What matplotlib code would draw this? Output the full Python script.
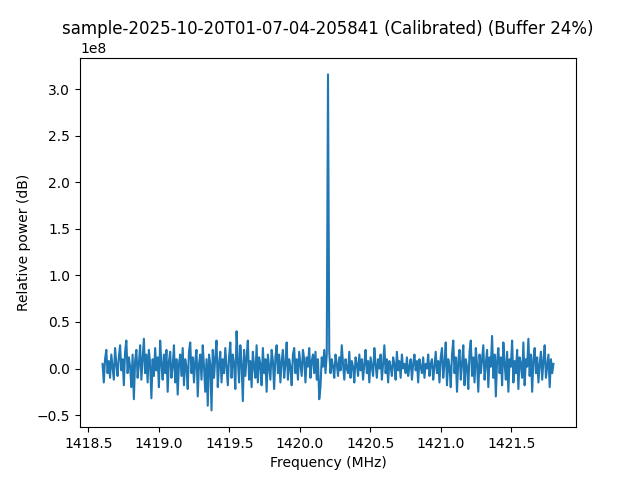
import numpy as np
import matplotlib
matplotlib.use("Agg")
import matplotlib.pyplot as plt

title = "sample-2025-10-20T01-07-04-205841 (Calibrated) (Buffer 24%)"

freq_start = 1418.6
freq_stop = 1421.8

# relative power, in units of 1e8 (low band, spike, high band)
power_low = [
    0.05, -0.15, 0.10, 0.20, -0.05, 0.08, -0.10, 0.15, 0.02, -0.12,
    0.22, 0.05, -0.08, 0.12, 0.25, -0.02, 0.10, -0.18, 0.18, 0.30,
    -0.05, 0.12, 0.02, -0.20, 0.15, -0.33, 0.08, 0.20, -0.10, 0.05,
    0.25, -0.12, 0.10, 0.32, -0.05, 0.15, -0.15, 0.20, 0.05, -0.32,
    0.10, -0.08, 0.22, -0.02, 0.12, -0.20, 0.30, 0.05, -0.12, 0.15,
    -0.05, 0.20, -0.25, 0.08, 0.18, -0.10, 0.02, 0.25, -0.15, 0.10,
    -0.28, 0.05, 0.15, -0.08, 0.22, -0.18, 0.10, 0.02, -0.22, 0.18,
    0.28, -0.05, 0.12, -0.15, 0.08, 0.20, -0.30, 0.05, 0.15, -0.12,
    0.25, 0.02, -0.25, 0.10, -0.40, 0.15, 0.05, -0.45, 0.20, -0.10,
    0.12, 0.30, -0.20, 0.05, 0.18, -0.15, 0.10, -0.05, 0.22, 0.02,
    -0.18, 0.12, 0.28, -0.10, 0.15, 0.05, -0.22, 0.40, 0.10, -0.15,
    0.25, 0.05, -0.35, 0.20, -0.08, 0.12, 0.30, -0.12, 0.08, -0.20,
    0.18, 0.02, -0.10, 0.25, -0.15, 0.12, 0.05, -0.18, 0.22, -0.05,
    0.10, -0.25, 0.15, 0.02, -0.12, 0.20, 0.08, -0.22, 0.12, 0.25,
    -0.05, 0.15, -0.15, 0.08, 0.20, -0.10, 0.05, 0.28, -0.12, 0.10,
    0.02, -0.18, 0.15, 0.22, -0.05, 0.10, -0.12, 0.18, 0.05, -0.08,
    0.20, 0.10, -0.15, 0.12, 0.02, 0.22, -0.10, 0.08, 0.15, -0.05,
    0.18, -0.12, 0.10, -0.33, -0.20, 0.12, 0.02, 0.20, -0.05, 0.15,
]
power_peak = [3.16]
power_high = [
    0.18, -0.05, 0.10, 0.02, -0.10, 0.15, 0.05, -0.08, 0.12, -0.02,
    0.25, 0.05, -0.12, 0.10, 0.00, -0.05, 0.18, -0.10, 0.08, 0.02,
    -0.15, 0.12, 0.05, -0.08, 0.15, -0.02, 0.10, -0.12, 0.05, 0.20,
    -0.05, 0.08, -0.15, 0.12, 0.02, -0.08, 0.22, 0.05, -0.10, 0.10,
    0.00, 0.15, -0.12, 0.05, 0.25, -0.05, 0.10, -0.15, 0.08, 0.02,
    -0.08, 0.12, 0.05, -0.12, 0.18, -0.02, 0.08, -0.10, 0.15, 0.00,
    0.05, -0.05, 0.12, -0.08, 0.02, 0.10, -0.12, 0.05, 0.15, -0.02,
    0.08, -0.15, 0.10, 0.02, -0.05, 0.12, -0.10, 0.05, 0.00, 0.15,
    -0.08, 0.05, 0.10, -0.12, 0.02, 0.18, -0.05, 0.08, -0.15, 0.12,
    0.22, -0.10, 0.05, 0.28, -0.18, 0.10, 0.02, -0.20, 0.15, 0.30,
    -0.05, 0.12, -0.25, 0.08, 0.20, -0.12, 0.05, 0.25, -0.18, 0.10,
    0.02, -0.22, 0.18, 0.30, -0.08, 0.12, -0.15, 0.22, 0.05, -0.25,
    0.15, -0.05, 0.10, 0.25, -0.12, 0.05, 0.20, -0.20, 0.12, 0.02,
    0.35, -0.10, 0.15, -0.30, 0.08, 0.22, -0.05, 0.12, -0.18, 0.28,
    0.05, -0.12, 0.18, -0.25, 0.10, 0.02, 0.30, -0.15, 0.08, -0.05,
    0.20, -0.22, 0.12, 0.05, -0.10, 0.28, -0.18, 0.10, 0.02, 0.32,
    -0.08, 0.15, -0.25, 0.10, 0.22, -0.05, 0.12, -0.15, 0.05, 0.18,
    -0.12, 0.08, 0.25, -0.10, 0.02, 0.15, -0.20, 0.10, -0.05, 0.05,
]

power = np.array(power_low + power_peak + power_high) * 1e8
freqs = np.linspace(freq_start, freq_stop, len(power))

fig, ax = plt.subplots(figsize=(6.4, 4.8), dpi=100)
ax.plot(freqs, power)
ax.set_title(title)
ax.set_xlabel("Frequency (MHz)")
ax.set_ylabel("Relative power (dB)")
fig.savefig("out.png")
